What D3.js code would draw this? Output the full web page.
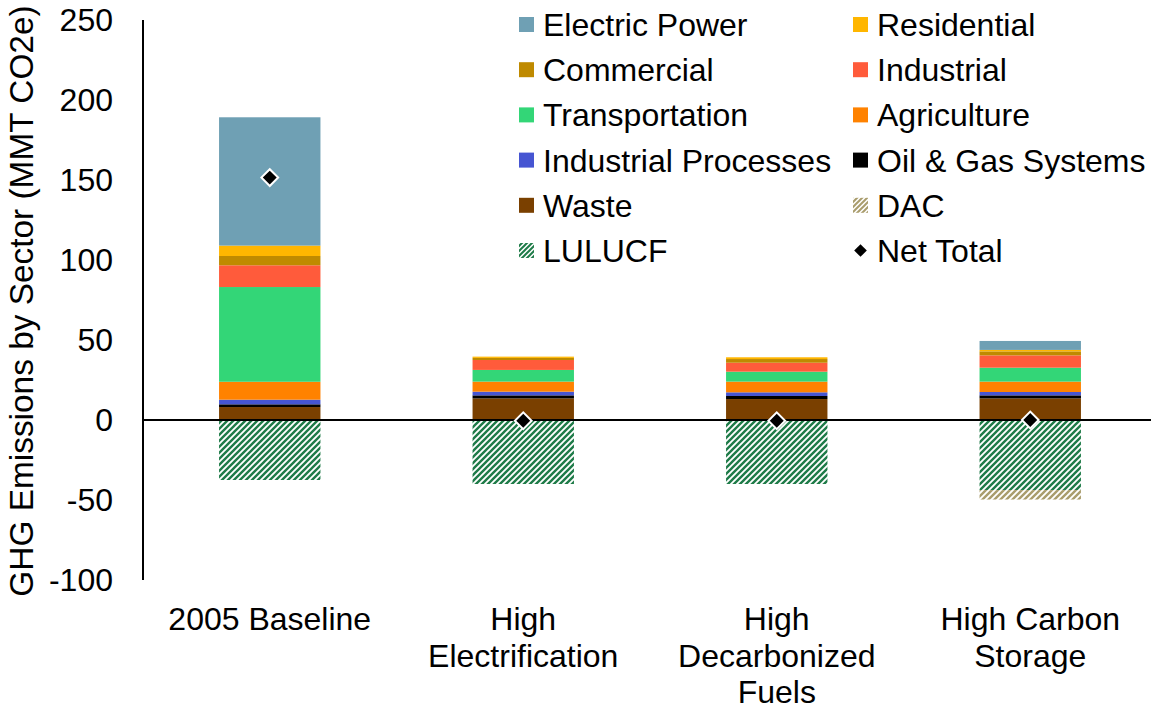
<!DOCTYPE html>
<html>
<head>
<meta charset="utf-8">
<script src="https://cdn.jsdelivr.net/npm/d3@7"></script>
<style>
  html, body { margin: 0; padding: 0; background: #fff; }
  svg { display: block; }
  text { font-family: "Liberation Sans", Arial, sans-serif; fill: #000; }
</style>
</head>
<body>
<svg id="chart" width="1151" height="709"></svg>
<script>
// ---- Data ----
const categories = ["2005 Baseline", "High Electrification", "High Decarbonized Fuels", "High Carbon Storage"];
const categoryLines = [["2005 Baseline"], ["High", "Electrification"], ["High", "Decarbonized", "Fuels"], ["High Carbon", "Storage"]];

// positive stack, bottom to top
const waste = [8.1, 13.5, 13.1, 13.5];
const oilGas = [1.7, 1.9, 1.9, 1.9];
const industrialProcesses = [2.9, 2.3, 2.3, 2.1];
const agriculture = [11.2, 6.3, 6.7, 6.5];
const transportation = [59.2, 7.3, 6.2, 8.7];
const industrial = [13.6, 6.2, 5.6, 7.7];
const commercial = [5.8, 1.3, 2.3, 2.5];
const residential = [6.5, 0.8, 1.1, 0.9];
const electricPower = [80.2, 0, 0, 5.6];
// negative stack, top to bottom
const lulucf = [-37.5, -40.0, -40.0, -43.8];
const dac = [0, 0, 0, -5.9];
const netTotal = [151.5, -0.5, -0.5, 0.0];

const yTicks = [-100, -50, 0, 50, 100, 150, 200, 250];

const positiveSeries = [
  { name: "Waste", values: waste, fill: "#7A4000" },
  { name: "Oil & Gas Systems", values: oilGas, fill: "#000000" },
  { name: "Industrial Processes", values: industrialProcesses, fill: "#4655D2" },
  { name: "Agriculture", values: agriculture, fill: "#FF8200" },
  { name: "Transportation", values: transportation, fill: "#33D677" },
  { name: "Industrial", values: industrial, fill: "#FF5B3B" },
  { name: "Commercial", values: commercial, fill: "#BF8A00" },
  { name: "Residential", values: residential, fill: "#FFB600" },
  { name: "Electric Power", values: electricPower, fill: "#6FA0B4" }
];
const negativeSeries = [
  { name: "LULUCF", values: lulucf, fill: "url(#hatchGreen)" },
  { name: "DAC", values: dac, fill: "url(#hatchTan)" }
];

const legendItems = [
  ["Electric Power", "rect", "#6FA0B4"], ["Residential", "rect", "#FFB600"],
  ["Commercial", "rect", "#BF8A00"], ["Industrial", "rect", "#FF5B3B"],
  ["Transportation", "rect", "#33D677"], ["Agriculture", "rect", "#FF8200"],
  ["Industrial Processes", "rect", "#4655D2"], ["Oil & Gas Systems", "rect", "#000000"],
  ["Waste", "rect", "#7A4000"], ["DAC", "rect", "url(#hatchTanL)"],
  ["LULUCF", "rect", "url(#hatchGreenL)"], ["Net Total", "diamond", "#000"]
];

// ---- Layout ----
const svg = d3.select("#chart");
const plot = { left: 143, right: 1157, top: 20, bottom: 580 };
const FS = 32;

const x = d3.scaleBand().domain(categories).range([plot.left, plot.right]).padding(0);
const barW = x.bandwidth() * 0.4;
const y = d3.scaleLinear().domain([-100, 250]).range([plot.bottom, plot.top]);

// patterns
const defs = svg.append("defs");
function hatch(id, color, size, sw) {
  const p = defs.append("pattern").attr("id", id).attr("patternUnits", "userSpaceOnUse")
    .attr("width", size).attr("height", size);
  p.append("rect").attr("width", size).attr("height", size).attr("fill", "#fff");
  p.append("path")
    .attr("d", `M-1,1 L1,-1 M0,${size} L${size},0 M${size - 1},${size + 1} L${size + 1},${size - 1}`)
    .attr("stroke", color).attr("stroke-width", sw).attr("stroke-linecap", "square");
}
hatch("hatchGreen", "#1E7B48", 6, 2.4);
hatch("hatchTan", "#A99C6C", 6, 2.4);
hatch("hatchGreenL", "#1E7B48", 5, 2.0);
hatch("hatchTanL", "#A99C6C", 5, 2.0);

// positive stacks
positiveSeries.forEach((s, si) => {
  svg.append("g").selectAll("rect").data(categories).join("rect")
    .attr("x", c => x(c) + (x.bandwidth() - barW) / 2)
    .attr("width", barW)
    .attr("y", (c, i) => {
      const base = d3.sum(positiveSeries.slice(0, si), t => t.values[i]);
      return y(base + s.values[i]);
    })
    .attr("height", (c, i) => y(0) - y(s.values[i]))
    .attr("fill", s.fill);
});
// negative stacks
negativeSeries.forEach((s, si) => {
  svg.append("g").selectAll("rect").data(categories).join("rect")
    .attr("x", c => x(c) + (x.bandwidth() - barW) / 2)
    .attr("width", barW)
    .attr("y", (c, i) => {
      const base = d3.sum(negativeSeries.slice(0, si), t => t.values[i]);
      return y(base);
    })
    .attr("height", (c, i) => y(s.values[i]) - y(0))
    .attr("fill", s.fill);
});

// y axis line
svg.append("line").attr("x1", plot.left).attr("x2", plot.left)
  .attr("y1", y(250)).attr("y2", y(-100)).attr("stroke", "#000").attr("stroke-width", 2);
// zero line
svg.append("line").attr("x1", plot.left).attr("x2", 1151)
  .attr("y1", y(0)).attr("y2", y(0)).attr("stroke", "#000").attr("stroke-width", 2);

// y tick labels
svg.append("g").selectAll("text").data(yTicks).join("text")
  .attr("x", 113).attr("y", d => y(d)).attr("dy", "0.35em")
  .attr("text-anchor", "end").attr("font-size", FS)
  .text(d => d);

// y title
svg.append("text")
  .attr("transform", `translate(33,${(plot.top + plot.bottom) / 2 + 1}) rotate(-90)`)
  .attr("text-anchor", "middle").attr("font-size", 33.4)
  .text("GHG Emissions by Sector (MMT CO2e)");

// x labels
categories.forEach((c, i) => {
  const t = svg.append("text").attr("text-anchor", "middle").attr("font-size", FS);
  categoryLines[i].forEach((ln, li) => {
    t.append("tspan").attr("x", x(c) + x.bandwidth() / 2).attr("y", 630 + li * 36.5).text(ln);
  });
});

// net total diamonds
svg.append("g").selectAll("path").data(categories).join("path")
  .attr("transform", (c, i) => `translate(${x(c) + x.bandwidth() / 2},${y(netTotal[i])}) rotate(45)`)
  .attr("d", d3.symbol().type(d3.symbolSquare).size(140))
  .attr("fill", "#000").attr("stroke", "#fff").attr("stroke-width", 2);

// legend
const legCols = [519, 853];
legendItems.forEach((it, k) => {
  const col = k % 2, row = Math.floor(k / 2);
  const cx = legCols[col], cy = 24.5 + row * 45.2;
  const g = svg.append("g");
  if (it[1] === "rect") {
    g.append("rect").attr("x", cx).attr("y", cy - 7.5).attr("width", 15).attr("height", 15).attr("fill", it[2]);
  } else {
    g.append("path").attr("transform", `translate(${cx + 7.5},${cy}) rotate(45)`)
      .attr("d", d3.symbol().type(d3.symbolSquare).size(80)).attr("fill", "#000");
  }
  g.append("text").attr("x", cx + 24).attr("y", cy).attr("dy", "0.36em")
    .attr("font-size", FS).text(it[0]);
});
</script>
</body>
</html>
